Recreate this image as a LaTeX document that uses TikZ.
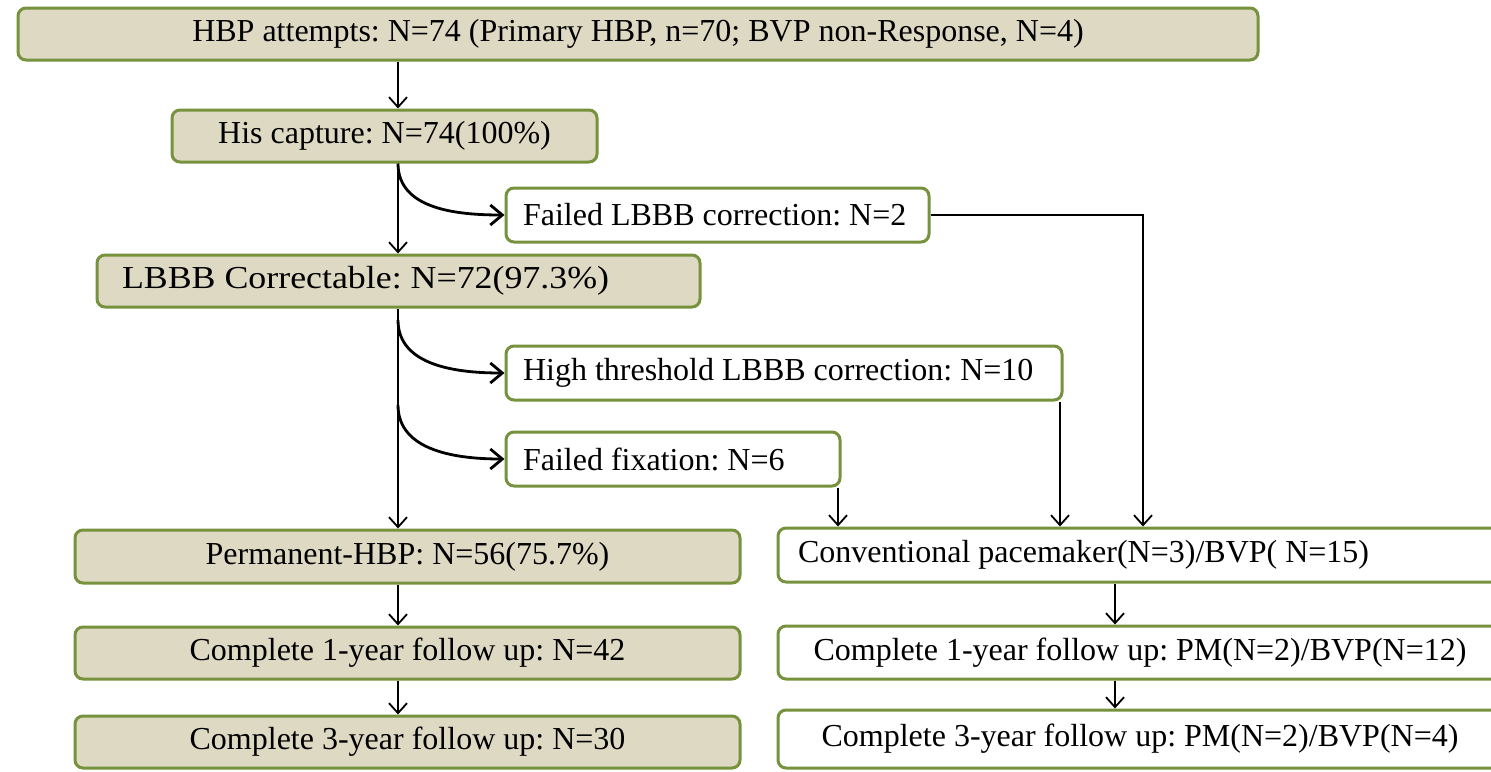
\documentclass[tikz,border=0pt]{standalone}
\usepackage{fontspec}
\setmainfont{Liberation Serif}
\newfontfamily\widefont[FakeStretch=1.12]{Liberation Serif}
\usetikzlibrary{arrows.meta}
\definecolor{boxtan}{HTML}{DDD9C3}
\definecolor{boxgreen}{HTML}{76923C}

\tikzset{
  box/.style={draw=boxgreen, line width=1.5pt, rounded corners=4pt, inner sep=0pt,
    font=\fontsize{16}{19}\selectfont\frenchspacing},
  tanbox/.style={box, fill=boxtan},
  whitebox/.style={box, fill=white, align=flush left, inner xsep=8.5pt},
  flowarrow/.style={line width=0.9pt, -{Straight Barb[length=5pt,width=9pt]}},
  curvedarrow/.style={line width=1.4pt, -{Straight Barb[length=6pt,width=10pt]}},
}

\begin{document}
\begin{tikzpicture}[x=0.5pt, y=-0.5pt]
  \useasboundingbox (0,0) rectangle (1491,771);

  % left column
  \node[tanbox, minimum width=620pt, minimum height=26pt] (attempts) at (638,34)
    {HBP attempts: N=74 (Primary HBP, n=70; BVP non-Response, N=4)};
  \node[tanbox, minimum width=212.5pt, minimum height=26pt] (capture) at (384.5,136)
    {His capture: N=74(100\%)};
  \node[tanbox, align=flush left, inner xsep=12.5pt, text width=276.5pt, minimum height=26pt,
    font=\widefont\fontsize{16}{19}\selectfont\frenchspacing] (correctable) at (398.5,281)
    {LBBB Correctable: N=72(97.3\%)};
  \node[tanbox, minimum width=332.5pt, minimum height=26.5pt] (permanent) at (407.5,556.5)
    {Permanent-HBP: N=56(75.7\%)};
  \node[tanbox, minimum width=332.5pt, minimum height=26pt] (left1) at (407.5,653)
    {Complete 1-year follow up: N=42};
  \node[tanbox, minimum width=332.5pt, minimum height=26pt] (left3) at (407.5,742)
    {Complete 3-year follow up: N=30};

  % side branches
  \node[whitebox, text width=194.5pt, minimum height=27pt] (failcorr) at (717.5,215)
    {Failed LBBB correction: N=2};
  \node[whitebox, text width=261pt, minimum height=27pt] (highthr) at (784,373)
    {High threshold LBBB correction: N=10};
  \node[whitebox, text width=150pt, minimum height=27pt] (failfix) at (673,459)
    {Failed fixation: N=6};

  % right column
  \node[whitebox, inner xsep=10pt, text width=342pt, minimum height=27pt] (conv) at (1140,555)
    {Conventional pacemaker(N=3)/BVP( N=15)};
  \node[box, fill=white, minimum width=362pt, minimum height=26.5pt] (right1) at (1140,652.5)
    {Complete 1-year follow up: PM(N=2)/BVP(N=12)};
  \node[box, fill=white, minimum width=362pt, minimum height=29pt] (right3) at (1140,739)
    {Complete 3-year follow up: PM(N=2)/BVP(N=4)};

  \coordinate (spine) at (398,0);
  \coordinate (fork1) at (398,320);
  \coordinate (fork2) at (398,405);
  \coordinate (ffx) at (838,0);
  \coordinate (htx) at (1060,0);
  \coordinate (fcx) at (1143,0);
  \coordinate (rsp) at (1115,0);

  \draw[flowarrow] (attempts.south -| spine) -- (capture.north -| spine);
  \draw[flowarrow] (capture.south -| spine) -- (correctable.north -| spine);
  \draw[curvedarrow] (capture.south -| spine) to[out=-90, in=180] (failcorr.west);
  \draw[flowarrow] (correctable.south -| spine) -- (permanent.north -| spine);
  \draw[curvedarrow] (fork1) to[out=-90, in=180] (highthr.west);
  \draw[curvedarrow] (fork2) to[out=-90, in=180] (failfix.west);
  \draw[flowarrow] (permanent.south -| spine) -- (left1.north -| spine);
  \draw[flowarrow] (left1.south -| spine) -- (left3.north -| spine);

  \draw[flowarrow] (failfix.south -| ffx) -- (conv.north -| ffx);
  \draw[flowarrow] (highthr.south -| htx) -- (conv.north -| htx);
  \draw[flowarrow] (failcorr.east) -| (conv.north -| fcx);
  \draw[flowarrow] (conv.south -| rsp) -- (right1.north -| rsp);
  \draw[flowarrow] (right1.south -| rsp) -- (right3.north -| rsp);
\end{tikzpicture}
\end{document}
